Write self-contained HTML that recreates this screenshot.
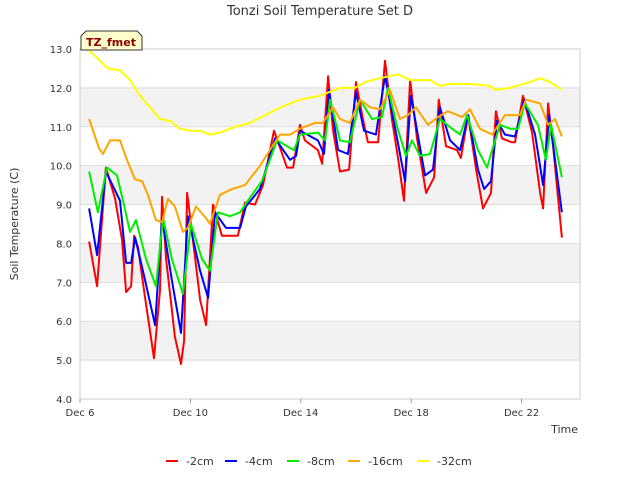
<!DOCTYPE html>
<html><head><meta charset="utf-8"><style>
body{margin:0;background:#fff;font-family:"Liberation Sans","DejaVu Sans",sans-serif}
svg text{font-family:"DejaVu Sans","Liberation Sans",sans-serif}
</style></head><body>
<svg id="chart" width="640" height="480" xmlns="http://www.w3.org/2000/svg">
<rect width="640" height="480" fill="#fff"/>
<g id="bands"></g>
<g id="grid"></g>
<rect x="80" y="49" width="500" height="350" fill="none" stroke="#ccc"/>
<g id="series"></g>
<g id="axes"></g>
<text x="320" y="15" text-anchor="middle" font-size="13" fill="#333">Tonzi Soil Temperature Set D</text>
<text transform="translate(18,224) rotate(-90)" text-anchor="middle" font-size="11" fill="#333">Soil Temperature (C)</text>
<text x="578" y="433" text-anchor="end" font-size="11" fill="#333">Time</text>
<g>
<path d="M81,50 L81,36 L86,31 L137,31 L142,36 L142,50 Z" fill="#ffffcc" stroke="#333"/>
<text x="111" y="46" text-anchor="middle" font-size="11" font-weight="bold" fill="#8b0000">TZ_fmet</text>
</g>
<g id="legend"></g>
</svg>
<script>
const yTicks=[4,5,6,7,8,9,10,11,12,13];
const xTickDays=[0,4,8,12,16];
const xTickLabels=["Dec 6","Dec 10","Dec 14","Dec 18","Dec 22"];
const seriesNames=["-2cm","-4cm","-8cm","-16cm","-32cm"];
const seriesColors=["#ff0000","#0000ff","#00ee00","#ffa500","#ffff00"];
const s2cm=[[0.33,8.05],[0.62,6.9],[0.94,9.95],[1.27,9.15],[1.52,8.1],[1.67,6.75],[1.85,6.9],[1.96,8.2],[2.1,7.9],[2.36,6.6],[2.68,5.05],[2.9,6.8],[2.97,9.2],[3.12,7.6],[3.44,5.6],[3.66,4.9],[3.77,5.5],[3.88,9.3],[4.09,8.1],[4.35,6.55],[4.57,5.9],[4.82,9.0],[5.14,8.2],[5.72,8.2],[5.98,9.05],[6.34,9.0],[6.63,9.5],[7.03,10.9],[7.5,9.95],[7.72,9.95],[7.97,11.05],[8.15,10.65],[8.62,10.4],[8.77,10.05],[8.99,12.3],[9.17,10.9],[9.42,9.85],[9.75,9.9],[10.0,12.15],[10.25,11.2],[10.43,10.6],[10.8,10.6],[11.05,12.7],[11.3,11.2],[11.52,10.2],[11.74,9.1],[11.96,12.2],[12.21,10.7],[12.54,9.3],[12.83,9.7],[13.0,11.7],[13.26,10.5],[13.66,10.4],[13.8,10.2],[14.06,11.3],[14.35,9.9],[14.6,8.9],[14.89,9.3],[15.07,11.4],[15.29,10.7],[15.65,10.6],[15.76,10.6],[16.05,11.8],[16.38,10.85],[16.67,9.3],[16.78,8.9],[16.96,11.6],[17.14,10.5],[17.46,8.15]];
const s4cm=[[0.33,8.9],[0.62,7.7],[0.94,9.85],[1.45,9.1],[1.67,7.5],[1.85,7.5],[2.0,8.15],[2.36,7.05],[2.72,5.9],[2.97,8.65],[3.33,7.05],[3.66,5.7],[3.91,8.7],[4.35,7.3],[4.64,6.6],[4.89,8.8],[5.29,8.4],[5.8,8.4],[6.01,8.95],[6.52,9.4],[7.07,10.7],[7.61,10.15],[7.83,10.25],[7.97,10.9],[8.62,10.65],[8.84,10.3],[9.02,11.95],[9.35,10.4],[9.71,10.3],[10.0,11.9],[10.29,10.9],[10.72,10.8],[11.05,12.3],[11.49,10.7],[11.78,9.6],[11.99,11.8],[12.5,9.75],[12.79,9.9],[13.04,11.5],[13.41,10.65],[13.77,10.4],[14.06,11.3],[14.42,9.9],[14.64,9.4],[14.89,9.6],[15.11,11.15],[15.4,10.8],[15.76,10.75],[16.09,11.7],[16.49,10.8],[16.78,9.5],[17.0,11.3],[17.46,8.8]];
const s8cm=[[0.33,9.85],[0.65,8.8],[0.98,9.95],[1.34,9.75],[1.59,9.0],[1.81,8.3],[2.03,8.6],[2.39,7.6],[2.75,6.9],[3.01,8.65],[3.33,7.6],[3.73,6.7],[4.02,8.5],[4.42,7.6],[4.71,7.3],[5.0,8.8],[5.43,8.7],[5.8,8.8],[6.23,9.25],[6.59,9.6],[7.14,10.65],[7.75,10.4],[7.97,10.8],[8.62,10.85],[8.88,10.65],[9.06,11.7],[9.42,10.65],[9.78,10.6],[10.14,11.7],[10.58,11.2],[10.94,11.25],[11.16,12.0],[11.49,11.0],[11.81,10.25],[12.03,10.65],[12.32,10.25],[12.68,10.3],[13.04,11.2],[13.48,10.95],[13.77,10.8],[14.02,11.3],[14.42,10.4],[14.75,9.95],[14.93,10.4],[15.22,11.05],[15.58,10.95],[15.87,10.95],[16.12,11.6],[16.59,11.05],[16.88,10.15],[17.07,11.05],[17.46,9.7]];
const s16cm=[[0.33,11.2],[0.69,10.45],[0.83,10.3],[1.09,10.65],[1.45,10.65],[1.7,10.15],[1.99,9.65],[2.25,9.6],[2.46,9.25],[2.75,8.6],[2.97,8.55],[3.19,9.15],[3.44,8.95],[3.73,8.3],[3.91,8.4],[4.2,8.95],[4.57,8.65],[4.71,8.5],[5.07,9.25],[5.51,9.4],[5.98,9.5],[6.52,10.0],[6.88,10.4],[7.25,10.8],[7.61,10.8],[7.97,10.95],[8.51,11.1],[8.8,11.1],[9.17,11.5],[9.42,11.2],[9.78,11.1],[10.14,11.7],[10.51,11.5],[10.87,11.45],[11.23,11.95],[11.59,11.2],[11.88,11.3],[12.17,11.5],[12.61,11.05],[12.97,11.25],[13.33,11.4],[13.84,11.25],[14.13,11.45],[14.49,10.95],[14.93,10.8],[15.4,11.3],[15.94,11.3],[16.16,11.7],[16.67,11.6],[16.96,11.05],[17.21,11.2],[17.46,10.75]];
const s32cm=[[0.33,12.97],[0.72,12.7],[1.01,12.5],[1.45,12.45],[1.81,12.2],[2.17,11.8],[2.54,11.5],[2.9,11.2],[3.26,11.15],[3.62,10.95],[3.99,10.9],[4.35,10.9],[4.71,10.8],[5.07,10.85],[5.62,11.0],[6.16,11.1],[6.7,11.3],[7.43,11.55],[7.97,11.7],[8.7,11.8],[9.42,12.0],[9.96,12.0],[10.33,12.15],[10.87,12.25],[11.52,12.35],[11.96,12.2],[12.68,12.2],[13.04,12.05],[13.41,12.1],[14.13,12.1],[14.86,12.05],[15.04,11.95],[15.58,12.0],[16.3,12.15],[16.67,12.25],[17.03,12.15],[17.46,11.95]];
const allSeries=[s2cm,s4cm,s8cm,s16cm,s32cm];

const X0=80,X1=580,Y0=399,Y1=49,DAYS=500/27.6;
function xs(d){return X0+d*(X1-X0)/DAYS;}
function ys(v){return Y0-(v-4)*(Y0-Y1)/9;}
const NS="http://www.w3.org/2000/svg";
function mk(t,a){const e=document.createElementNS(NS,t);for(const k in a)e.setAttribute(k,a[k]);return e;}
const bands=document.getElementById('bands'),grid=document.getElementById('grid'),axes=document.getElementById('axes'),ser=document.getElementById('series'),leg=document.getElementById('legend');
for(let i=0;i<yTicks.length-1;i++){
  if(i%2===1){const r=mk('rect',{x:X0,y:ys(yTicks[i+1]),width:X1-X0,height:ys(yTicks[i])-ys(yTicks[i+1]),fill:'#f2f2f2'});
  
  
  bands.appendChild(r);}
}
yTicks.forEach(v=>{
  const l=mk('line',{x1:X0,x2:X1,y1:ys(v),y2:ys(v),stroke:'#ddd'});
  
  
  grid.appendChild(l);
  const t=mk('text',{x:X0-8,y:ys(v)+4,'text-anchor':'end','font-size':10,fill:'#333'});
  t.textContent=v.toFixed(1);
  
  
  axes.appendChild(t);
});
xTickDays.forEach((d,i)=>{
  const l=mk('line',{x1:xs(d),x2:xs(d),y1:Y0,y2:Y0+4,stroke:'#999'});
  
  
  axes.appendChild(l);
  const t=mk('text',{x:xs(d),y:Y0+17,'text-anchor':'middle','font-size':10,fill:'#333'});
  t.textContent=xTickLabels[i];
  
  
  axes.appendChild(t);
});
allSeries.forEach((s,i)=>{
  const p=mk('polyline',{points:s.map(q=>xs(q[0]).toFixed(1)+','+ys(q[1]).toFixed(1)).join(' '),fill:'none',stroke:seriesColors[i],'stroke-width':2,'stroke-linejoin':'round'});
  
  
  ser.appendChild(p);
});
const legX=[166,225,287,348,417];
seriesNames.forEach((n,i)=>{
  const g=mk('g',{});
  
  
  g.appendChild(mk('line',{x1:legX[i],x2:legX[i]+12,y1:461,y2:461,stroke:seriesColors[i],'stroke-width':2}));
  const t=mk('text',{x:legX[i]+20,y:465,'font-size':11,fill:'#333'});
  t.textContent=n;
  g.appendChild(t);
  leg.appendChild(g);
});
</script>
</body></html>
